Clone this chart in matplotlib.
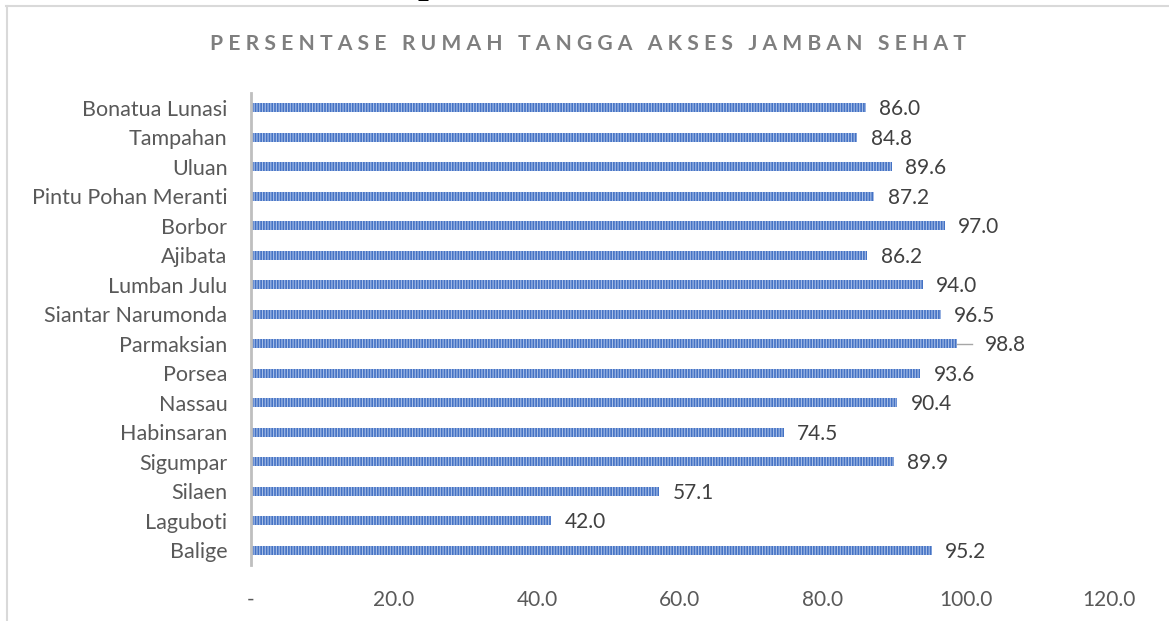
import matplotlib.pyplot as plt
from matplotlib.lines import Line2D

# Data, listed top to bottom as in the chart
kecamatan = ["Bonatua Lunasi", "Tampahan", "Uluan", "Pintu Pohan Meranti",
             "Borbor", "Ajibata", "Lumban Julu", "Siantar Narumonda",
             "Parmaksian", "Porsea", "Nassau", "Habinsaran", "Sigumpar",
             "Silaen", "Laguboti", "Balige"]
persen = [86.0, 84.8, 89.6, 87.2, 97.0, 86.2, 94.0, 96.5,
          98.8, 93.6, 90.4, 74.5, 89.9, 57.1, 42.0, 95.2]
x_ticks = [0, 20, 40, 60, 80, 100, 120]
x_ticklabels = ["-", "20.0", "40.0", "60.0", "80.0", "100.0", "120.0"]
TITLE = "PERSENTASE RUMAH TANGGA AKSES JAMBAN SEHAT"

W, H = 1169, 621

plt.rcParams['font.family'] = ['Lato', 'DejaVu Sans']
plt.rcParams['hatch.linewidth'] = 0.8


def spaced(text):
    # imitate the wide letter spacing of the title
    words = text.split(" ")
    return "   ".join(" ".join(w) for w in words)


def main():
    fig = plt.figure(figsize=(W / 100, H / 100), dpi=100)
    ax = fig.add_axes([251 / W, 1 - 565 / H, 858 / W, 472 / H])

    # bottom-to-top order for barh
    names = kecamatan[::-1]
    vals = persen[::-1]
    pos = list(range(len(names)))

    ax.barh(pos, vals, height=0.31, color="#4472C4", edgecolor="#A9C0E8",
            linewidth=0, hatch="||||||")

    for p, v in zip(pos, vals):
        if v > 98:
            # leader line for the label that was pushed aside
            ax.plot([v, v + 2.0], [p, p], color="#A6A6A6", lw=1)
            dx = 19.5
        else:
            dx = 9.5
        ax.annotate(f"{v:.1f}", (v, p), xytext=(dx, -1),
                    textcoords="offset points", fontsize=15,
                    color="#404040", va="center", ha="left")

    ax.set_xlim(0, 120)
    ax.set_ylim(-0.5, len(names) - 0.5)
    ax.set_yticks(pos)
    ax.set_yticklabels(names, fontsize=15.5, color="#595959")
    ax.set_xticks(x_ticks)
    ax.set_xticklabels(x_ticklabels, fontsize=15, color="#595959")
    ax.tick_params(axis="both", length=0)
    ax.tick_params(axis="y", pad=17)
    ax.tick_params(axis="x", pad=18)
    for side in ["top", "right", "bottom"]:
        ax.spines[side].set_visible(False)
    ax.spines["left"].set_color("#BFBFBF")
    ax.spines["left"].set_linewidth(2)

    fig.text(588 / W, 1 - 44 / H, spaced(TITLE), fontsize=15.2,
             fontweight="bold", color="#7F7F7F", ha="center", va="center")

    # bit of the page heading cut off above the chart
    fig.text(428 / W, 1 + 8 / H, "p", fontsize=28, fontweight="bold",
             family="Liberation Serif", color="black", ha="center",
             va="baseline")

    # chart frame (top and left edges visible)
    fig.add_artist(Line2D([6 / W, 1], [1 - 6 / H, 1 - 6 / H],
                          color="#D9D9D9", lw=1.5))
    fig.add_artist(Line2D([7 / W, 7 / W], [0, 1 - 6 / H],
                          color="#D9D9D9", lw=1.5))

    fig.savefig("out.png", dpi=100)


if __name__ == "__main__":
    main()
